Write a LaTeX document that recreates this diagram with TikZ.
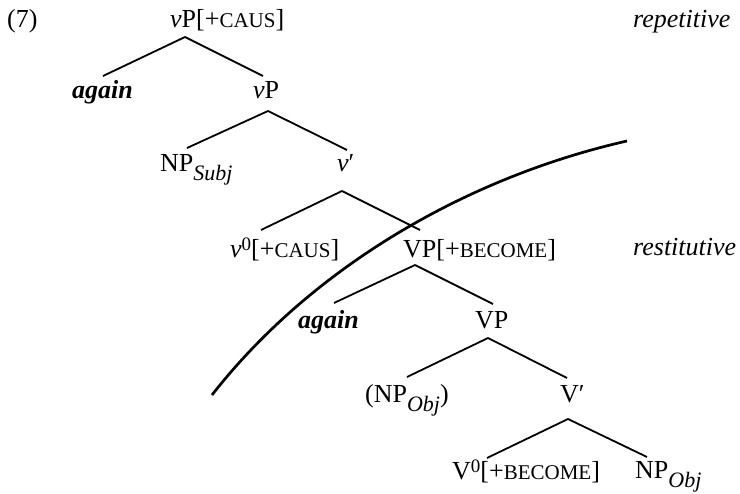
\documentclass[tikz,border=0pt]{standalone}
\usepackage{fontspec}
\setmainfont{Liberation Serif}
\newcommand{\smc}[1]{{\fontsize{21}{24}\selectfont #1}}
\newcommand{\subx}[1]{\raisebox{-9pt}{\fontsize{22}{24}\selectfont\itshape #1}}
\newcommand{\supx}[1]{\raisebox{7pt}{\fontsize{19}{22}\selectfont #1}}
\begin{document}
\begin{tikzpicture}[x=1pt,y=-1pt,
  lbl/.style={anchor=base west, inner sep=0pt, font=\fontsize{26}{30}\selectfont},
  branch/.style={line width=1.8pt},
  arcline/.style={line width=2.7pt}]
\useasboundingbox (0,0) rectangle (740,494);
% labels
\node[lbl] (ex) at (7,28) {(7)};
\node[lbl] (vPc) at (170,28) {\textit{v}P[+\smc{CAUS}]};
\node[lbl] (rep) at (633,28) {\textit{repetitive}};
\node[lbl] (again1) at (72,99) {\textbf{\textit{again}}};
\node[lbl] (vP2) at (253,99) {\textit{v}P};
\node[lbl] (NPsubj) at (160,172) {NP\subx{Subj}};
\node[lbl] (vbar) at (337,172) {\textit{v}′};
\node[lbl] (v0) at (230,258) {\textit{v}\supx{0}[+\smc{CAUS}]};
\node[lbl] (VPb) at (403,258) {VP[+\smc{BECOME}]};
\node[lbl] (rest) at (633,256) {\textit{restitutive}};
\node[lbl] (again2) at (298,329) {\textbf{\textit{again}}};
\node[lbl] (VP3) at (475,329) {VP};
\node[lbl] (NPobj) at (365,403) {(NP\subx{Obj})};
\node[lbl] (Vbar) at (560,403) {V′};
\node[lbl] (V0) at (452,480) {V\supx{0}[+\smc{BECOME}]};
\node[lbl] (NPobj2) at (635,479) {NP\subx{Obj}};
% branches
\draw[branch] ([shift={(15,9)}]vPc.base west) -- ([shift={(31,-23)}]again1.base west);
\draw[branch] ([shift={(15,9)}]vPc.base west) -- ([shift={(10,-23)}]vP2.base west);
\draw[branch] ([shift={(15,12)}]vP2.base west) -- ([shift={(27,-24)}]NPsubj.base west);
\draw[branch] ([shift={(15,12)}]vP2.base west) -- ([shift={(10,-22)}]vbar.base west);
\draw[branch] ([shift={(5,19)}]vbar.base west) -- ([shift={(31,-28)}]v0.base west);
\draw[branch] ([shift={(5,19)}]vbar.base west) -- ([shift={(17,-28)}]VPb.base west);
\draw[branch] ([shift={(12,7)}]VPb.base west) -- ([shift={(36,-26)}]again2.base west);
\draw[branch] ([shift={(12,7)}]VPb.base west) -- ([shift={(18,-25)}]VP3.base west);
\draw[branch] ([shift={(13,9)}]VP3.base west) -- ([shift={(42,-26)}]NPobj.base west);
\draw[branch] ([shift={(13,9)}]VP3.base west) -- ([shift={(7,-25)}]Vbar.base west);
\draw[branch] ([shift={(8,16)}]Vbar.base west) -- ([shift={(35,-22)}]V0.base west);
\draw[branch] ([shift={(8,16)}]Vbar.base west) -- ([shift={(12,-22)}]NPobj2.base west);
% boundary curve
\coordinate (cstart) at (212,395);
\coordinate (cend) at (627,141);
\draw[arcline] (cstart) .. controls (310.5,269) and (464.4,177.9) .. (cend);
\end{tikzpicture}
\end{document}
